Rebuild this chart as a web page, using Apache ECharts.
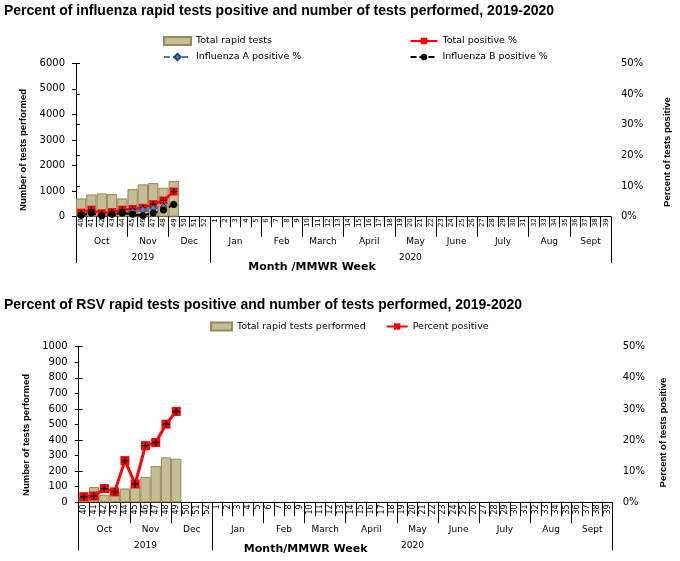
<!DOCTYPE html>
<html>
<head>
<meta charset="utf-8">
<script src="https://cdn.jsdelivr.net/npm/echarts@6/dist/echarts.min.js"></script>
<style>html,body{margin:0;padding:0;background:#fff;}#c{width:680px;height:561px;}</style>
</head>
<body>
<div id="c"></div>
<script>
// ---- data ----
const weeks = ['40','41','42','43','44','45','46','47','48','49','50','51','52',
  '1','2','3','4','5','6','7','8','9','10','11','12','13','14','15','16','17','18','19','20',
  '21','22','23','24','25','26','27','28','29','30','31','32','33','34','35','36','37','38','39'];
const months = ['Oct','Nov','Dec','Jan','Feb','March','April','May','June','July','Aug','Sept'];
const monthWeekCounts = [5,4,4,5,4,4,5,4,4,5,4,4];
const years = ['2019','2020'];
const yearWeekCounts = [13,39];

// Influenza
const fluTotalTests = [714, 870, 909, 883, 714, 1078, 1265, 1315, 1130, 1395];
const fluTotalPos   = [1.3, 2.3, 1.1, 1.5, 2.3, 2.5, 2.9, 4.1, 5.3, 8.2];
const fluAPos       = [0.5, 1.1, 0.4, 0.8, 1.1, 1.6, 2.2, 2.7, 3.2, 4.0];
const fluBPos       = [0.5, 1.2, 0.3, 0.8, 1.2, 0.8, 0.4, 1.2, 2.2, 4.0];
// RSV
const rsvTotalTests = [35, 98, 48, 70, 89, 98, 163, 233, 289, 280];
const rsvPos        = [1.8, 2.0, 4.4, 3.35, 13.4, 5.9, 18.2, 19.2, 25.1, 29.2];

const fluLeftTicks = [0, 6000, 1000];
const rsvLeftTicks = [0, 1000, 100];
const pctTicks = [0, 50, 10];

// ---- helpers ----
function pad(arr){ const o = arr.slice(); while(o.length < weeks.length) o.push(null); return o; }
function groups(names, counts){
  const bounds=[0], centers=[], map={};
  let acc=0;
  counts.forEach((c,i)=>{ const ctr=acc+c/2; centers.push(ctr); map[String(ctr)]=names[i]; acc+=c; bounds.push(acc); });
  return {bounds, centers, map};
}
const mg = groups(months, monthWeekCounts);
const yg = groups(years, yearWeekCounts);

const tickFont = 'DejaVu Sans';
const titleFont = '"Liberation Sans Narrow", "Liberation Sans", Arial, sans-serif';
const black = '#000';

function xAxesFor(g, cfg){
  return [
    { type:'category', gridIndex:g, data:weeks, boundaryGap:true,
      axisLine:{show:true, lineStyle:{color:black, width:1}},
      axisTick:{show:true, interval:0, length:cfg.weekBox, lineStyle:{color:black}},
      axisLabel:{interval:0, rotate:90, fontSize:cfg.weekFont, fontFamily:tickFont, color:black, margin:cfg.weekMargin},
      splitLine:{show:false} },
    { type:'value', gridIndex:g, min:0, max:weeks.length, position:'bottom', offset:cfg.weekBox,
      axisLine:{show:false}, splitLine:{show:false},
      axisTick:{show:true, customValues:mg.bounds, length:cfg.monthLen, lineStyle:{color:black}},
      axisLabel:{show:true, customValues:mg.centers, formatter:v=>mg.map[String(v)]||'', fontSize:9, fontFamily:tickFont, color:black, margin:cfg.monthMargin} },
    { type:'value', gridIndex:g, min:0, max:weeks.length, position:'bottom', offset:cfg.weekBox,
      axisLine:{show:false}, splitLine:{show:false},
      axisTick:{show:true, customValues:yg.bounds, length:cfg.yearLen, lineStyle:{color:black}},
      axisLabel:{show:true, customValues:yg.centers, formatter:v=>yg.map[String(v)]||'', fontSize:9, fontFamily:tickFont, color:black, margin:cfg.yearMargin},
      name:cfg.xName, nameLocation:'middle', nameGap:cfg.xNameGap, nameMoveOverlap:false,
      nameTextStyle:{fontFamily:tickFont, fontWeight:'bold', fontSize:11, color:black, padding:[0,cfg.xNameShift,0,0]} }
  ];
}
function yAxesFor(g, leftTicks, cfg){
  return [
    { type:'value', gridIndex:g, position:'left', min:leftTicks[0], max:leftTicks[1], interval:leftTicks[2],
      axisLine:{show:true, lineStyle:{color:black}}, axisTick:{show:true, length:4, lineStyle:{color:black}},
      axisLabel:{fontSize:10, fontFamily:tickFont, color:black, margin:11, formatter:v=>String(v)}, splitLine:{show:false},
      name:'Number of tests performed', nameLocation:'middle', nameGap:cfg.lGap,
      nameTextStyle:{fontFamily:titleFont, fontWeight:'bold', fontSize:cfg.nameFont, color:black, padding:[0,cfg.lShift,0,0]} },
    { type:'value', gridIndex:g, position:'right', min:pctTicks[0], max:pctTicks[1], interval:pctTicks[2],
      axisLine:{show:true, lineStyle:{color:black}}, axisTick:{show:true, length:4, lineStyle:{color:black}},
      axisLabel:{fontSize:10, fontFamily:tickFont, color:black, margin:10, formatter:'{value}%'}, splitLine:{show:false},
      name:'Percent of tests positive', nameLocation:'middle', nameGap:cfg.rGap,
      nameTextStyle:{fontFamily:titleFont, fontWeight:'bold', fontSize:cfg.nameFont, color:black, padding:[0,cfg.rShift,0,0]} }
  ];
}

const plusPath = 'path://M4,0 h2 v4 h4 v2 h-4 v4 h-2 v-4 h-4 v-2 h4z';
const barStyle = {color:'#C4BD97', borderColor:'#948A54', borderWidth:1};

const topX = xAxesFor(0, {weekBox:10.5, weekFont:7, weekMargin:1.5, monthLen:20, monthMargin:10, yearLen:36, yearMargin:26,
  xName:'Month /MMWR Week', xNameGap:34, xNameShift:63});
const botX = xAxesFor(1, {weekBox:14, weekFont:8, weekMargin:2, monthLen:21, monthMargin:9, yearLen:34, yearMargin:25,
  xName:'Month/MMWR Week', xNameGap:27, xNameShift:80});
const topY = yAxesFor(0, fluLeftTicks, {lGap:45, lShift:20, rGap:51, rShift:24, nameFont:9.5});
const botY = yAxesFor(1, rsvLeftTicks, {lGap:43, lShift:21, rGap:46, rShift:16, nameFont:9.5});

const option = {
  backgroundColor:'#fff',
  animation:false,
  title:[
    {text:'Percent of influenza rapid tests positive and number of tests performed, 2019-2020', left:4, top:4, padding:0,
     textStyle:{fontFamily:titleFont, fontWeight:'bold', fontSize:14, color:black}},
    {text:'Percent of RSV rapid tests positive and number of tests performed, 2019-2020', left:4, top:298, padding:0,
     textStyle:{fontFamily:titleFont, fontWeight:'bold', fontSize:14, color:black}}
  ],
  legend:[
    {left:163, top:36, orient:'vertical', itemGap:6, itemWidth:27, itemHeight:8, padding:0,
     data:[{name:'Total rapid tests', icon:'rect'}, 'Influenza A positive %'],
     textStyle:{fontFamily:tickFont, fontSize:9.5, color:black}},
    {left:409.5, top:36, orient:'vertical', itemGap:6, itemWidth:27, itemHeight:8, padding:0,
     data:['Total positive %', 'Influenza B positive %'],
     textStyle:{fontFamily:tickFont, fontSize:9.5, color:black}},
    {left:210, top:321.5, orient:'horizontal', itemGap:20, itemWidth:21, itemHeight:8, padding:0,
     data:[{name:'Total rapid tests performed', icon:'rect'}, 'Percent positive'],
     textStyle:{fontFamily:tickFont, fontSize:9.5, color:black}}
  ],
  grid:[
    {left:76, right:67, top:63.3, height:153.4, containLabel:false},
    {left:78.7, right:67.3, top:346.7, height:155.6, containLabel:false}
  ],
  xAxis: topX.concat(botX),
  yAxis: topY.concat(botY),
  series:[
    {name:'Total rapid tests', type:'bar', xAxisIndex:0, yAxisIndex:0, data:pad(fluTotalTests), barCategoryGap:'0%', itemStyle:barStyle},
    {name:'Total positive %', type:'line', xAxisIndex:0, yAxisIndex:1, data:pad(fluTotalPos), symbol:'rect', symbolSize:8,
     itemStyle:{color:'#FF0000'}, lineStyle:{color:'#FF0000', width:2.5}, z:3},
    {name:'Total positive %', type:'line', xAxisIndex:0, yAxisIndex:1, data:pad(fluTotalPos), symbol:plusPath, symbolSize:6,
     itemStyle:{color:'#000'}, lineStyle:{width:0, opacity:0}, z:4, silent:true},
    {name:'Influenza A positive %', type:'line', xAxisIndex:0, yAxisIndex:1, data:pad(fluAPos), symbol:'diamond', symbolSize:7,
     itemStyle:{color:'#4F81BD', borderColor:'#1F497D', borderWidth:1}, lineStyle:{color:'#4A7EBB', width:2, type:[6,3]}, z:5},
    {name:'Influenza B positive %', type:'line', xAxisIndex:0, yAxisIndex:1, data:pad(fluBPos), symbol:'circle', symbolSize:7,
     itemStyle:{color:'#000'}, lineStyle:{color:'#000', width:2, type:[6,3]}, z:6},

    {name:'Total rapid tests performed', type:'bar', xAxisIndex:3, yAxisIndex:2, data:pad(rsvTotalTests), barCategoryGap:'0%', itemStyle:barStyle},
    {name:'Percent positive', type:'line', xAxisIndex:3, yAxisIndex:3, data:pad(rsvPos), symbol:'rect', symbolSize:9,
     itemStyle:{color:'#FF0000'}, lineStyle:{color:'#FF0000', width:3}, z:3},
    {name:'Percent positive', type:'line', xAxisIndex:3, yAxisIndex:3, data:pad(rsvPos), symbol:plusPath, symbolSize:7,
     itemStyle:{color:'#000'}, lineStyle:{width:0, opacity:0}, z:4, silent:true}
  ]
};
const chart = echarts.init(document.getElementById('c'), null, {renderer:'canvas'});
chart.setOption(option);
</script>
</body>
</html>
